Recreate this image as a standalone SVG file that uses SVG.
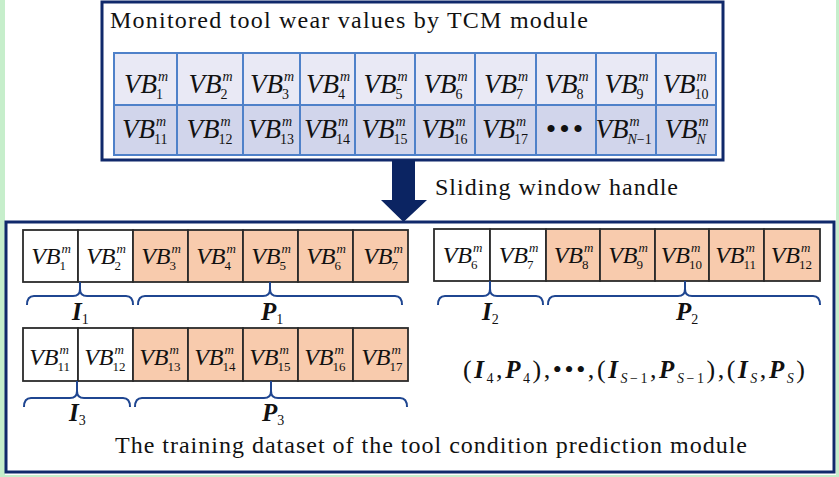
<svg xmlns="http://www.w3.org/2000/svg" width="839" height="477" viewBox="0 0 839 477">
<style>
text{font-family:"Liberation Serif","Times New Roman",serif;fill:#111}
.vb{font-style:italic;font-size:27px;text-anchor:end}
.sp{font-style:italic;font-size:14px}
.sb{font-size:14px}
.vb2{font-style:italic;font-size:24px;text-anchor:end}
.sp2{font-style:italic;font-size:13px}
.sb2{font-size:13px}
.box{fill:#fff;stroke:#10296b;stroke-width:3}
.grid{stroke:#4f81c9;stroke-width:2;fill:none}
.cell{stroke:#2b2b2b;stroke-width:1.8}
.w{fill:#fff}
.o{fill:#f8cbad}
.brace{fill:none;stroke:#1f4691;stroke-width:2}
.lbl{font-style:italic;font-weight:bold;font-size:25px}
.ls{font-size:14px}
.cap{font-size:24px}
</style>
<rect width="839" height="477" fill="#fff"/>
<rect x="0" y="0" width="5" height="477" fill="#c6eecb"/>
<rect x="836" y="0" width="3" height="477" fill="#c6eecb"/>
<rect x="0" y="475" width="839" height="2" fill="#c6eecb"/>

<g id="tcm-module">
<rect class="box" x="102" y="2" width="621" height="158"/>
<text x="110" y="28" class="cap" font-size="26" textLength="478" lengthAdjust="spacing">Monitored tool wear values by TCM module</text>
<rect x="114" y="53" width="602" height="52" fill="#e9e9f5"/>
<rect x="114" y="105" width="602" height="50" fill="#d1d5eb"/>
<path class="grid" d="M114,53H716V155H114ZM114,105H716M177,53V155M243,53V155M300,53V155M355,53V155M415,53V155M475,53V155M536,53V155M596,53V155M656,53V155"/>
<g>
<text class="vb" x="157" y="93">VB</text><text class="sp" x="158" y="81">m</text><text class="sb" x="156" y="99">1</text>
<text class="vb" x="221.5" y="93">VB</text><text class="sp" x="222.5" y="81">m</text><text class="sb" x="220.5" y="99">2</text>
<text class="vb" x="283" y="93">VB</text><text class="sp" x="284" y="81">m</text><text class="sb" x="282" y="99">3</text>
<text class="vb" x="339" y="93">VB</text><text class="sp" x="340" y="81">m</text><text class="sb" x="338" y="99">4</text>
<text class="vb" x="396.5" y="93">VB</text><text class="sp" x="397.5" y="81">m</text><text class="sb" x="395.5" y="99">5</text>
<text class="vb" x="456.5" y="93">VB</text><text class="sp" x="457.5" y="81">m</text><text class="sb" x="455.5" y="99">6</text>
<text class="vb" x="517" y="93">VB</text><text class="sp" x="518" y="81">m</text><text class="sb" x="516" y="99">7</text>
<text class="vb" x="577.5" y="93">VB</text><text class="sp" x="578.5" y="81">m</text><text class="sb" x="576.5" y="99">8</text>
<text class="vb" x="637.5" y="93">VB</text><text class="sp" x="638.5" y="81">m</text><text class="sb" x="636.5" y="99">9</text>
<text class="vb" x="695.5" y="93">VB</text><text class="sp" x="696.5" y="81">m</text><text class="sb" x="694.5" y="99">10</text>
</g>
<g>
<text class="vb" x="155" y="138">VB</text><text class="sp" x="156" y="126">m</text><text class="sb" x="154" y="144">11</text>
<text class="vb" x="219.5" y="138">VB</text><text class="sp" x="220.5" y="126">m</text><text class="sb" x="218.5" y="144">12</text>
<text class="vb" x="281" y="138">VB</text><text class="sp" x="282" y="126">m</text><text class="sb" x="280" y="144">13</text>
<text class="vb" x="337" y="138">VB</text><text class="sp" x="338" y="126">m</text><text class="sb" x="336" y="144">14</text>
<text class="vb" x="394.5" y="138">VB</text><text class="sp" x="395.5" y="126">m</text><text class="sb" x="393.5" y="144">15</text>
<text class="vb" x="454.5" y="138">VB</text><text class="sp" x="455.5" y="126">m</text><text class="sb" x="453.5" y="144">16</text>
<text class="vb" x="515" y="138">VB</text><text class="sp" x="516" y="126">m</text><text class="sb" x="514" y="144">17</text>
<text x="566" y="139" font-size="30" text-anchor="middle" letter-spacing="3">•••</text>
<text class="vb" x="628.5" y="138">VB</text><text class="sp" x="629.5" y="126">m</text><text class="sb" x="627.5" y="144"><tspan font-style="italic">N</tspan>−1</text>
<text class="vb" x="697.5" y="138">VB</text><text class="sp" x="698.5" y="126">m</text><text class="sb" x="696.5" y="144" font-style="italic">N</text>
</g>
</g>

<g id="connectors">
<path d="M392,160H415V200H427L403.5,222L381,200H392Z" fill="#0b2462"/>
</g>
<g id="arrow-label">
<text x="435" y="195" class="cap" font-size="25" textLength="243" lengthAdjust="spacing">Sliding window handle</text>
</g>

<g id="training-dataset">
<rect class="box" x="6" y="222" width="828" height="250"/>
<text x="115" y="453" class="cap" textLength="632" lengthAdjust="spacing">The training dataset of the tool condition prediction module</text>
</g>

<g id="sample-1">
<rect class="cell w" x="23" y="230" width="55" height="52"/>
<rect class="cell w" x="78" y="230" width="55" height="52"/>
<rect class="cell o" x="133" y="230" width="55" height="52"/>
<rect class="cell o" x="188" y="230" width="55" height="52"/>
<rect class="cell o" x="243" y="230" width="55" height="52"/>
<rect class="cell o" x="298" y="230" width="55" height="52"/>
<rect class="cell o" x="353" y="230" width="55" height="52"/>
<text class="vb2" x="60.5" y="264">VB</text><text class="sp2" x="61.5" y="253">m</text><text class="sb2" x="59.5" y="270">1</text>
<text class="vb2" x="115.5" y="264">VB</text><text class="sp2" x="116.5" y="253">m</text><text class="sb2" x="114.5" y="270">2</text>
<text class="vb2" x="170.5" y="264">VB</text><text class="sp2" x="171.5" y="253">m</text><text class="sb2" x="169.5" y="270">3</text>
<text class="vb2" x="225.5" y="264">VB</text><text class="sp2" x="226.5" y="253">m</text><text class="sb2" x="224.5" y="270">4</text>
<text class="vb2" x="280.5" y="264">VB</text><text class="sp2" x="281.5" y="253">m</text><text class="sb2" x="279.5" y="270">5</text>
<text class="vb2" x="335.5" y="264">VB</text><text class="sp2" x="336.5" y="253">m</text><text class="sb2" x="334.5" y="270">6</text>
<text class="vb2" x="392.5" y="264">VB</text><text class="sp2" x="393.5" y="253">m</text><text class="sb2" x="391.5" y="270">7</text>
<path class="brace" d="M27,305Q27,296 34,296H73Q80,296 80,289V282M80,289Q80,296 87,296H126Q133,296 133,305"/>
<path class="brace" d="M138,305Q138,296 145,296H263Q270,296 270,289V282M270,289Q270,296 277,296H395Q402,296 402,305"/>
<text x="72" y="320" class="lbl">I<tspan class="ls" font-weight="normal" font-style="normal" dy="4">1</tspan></text>
<text x="261" y="320" class="lbl">P<tspan class="ls" font-weight="normal" font-style="normal" dy="4">1</tspan></text>
</g>

<g id="sample-2">
<rect class="cell w" x="434" y="229" width="56" height="52"/>
<rect class="cell w" x="490" y="229" width="56" height="52"/>
<rect class="cell o" x="546" y="229" width="54" height="52"/>
<rect class="cell o" x="600" y="229" width="55" height="52"/>
<rect class="cell o" x="655" y="229" width="54" height="52"/>
<rect class="cell o" x="709" y="229" width="55" height="52"/>
<rect class="cell o" x="764" y="229" width="56" height="52"/>
<text class="vb2" x="472" y="263">VB</text><text class="sp2" x="473" y="252">m</text><text class="sb2" x="471" y="269">6</text>
<text class="vb2" x="528" y="263">VB</text><text class="sp2" x="529" y="252">m</text><text class="sb2" x="527" y="269">7</text>
<text class="vb2" x="583" y="263">VB</text><text class="sp2" x="584" y="252">m</text><text class="sb2" x="582" y="269">8</text>
<text class="vb2" x="637.5" y="263">VB</text><text class="sp2" x="638.5" y="252">m</text><text class="sb2" x="636.5" y="269">9</text>
<text class="vb2" x="690" y="263">VB</text><text class="sp2" x="691" y="252">m</text><text class="sb2" x="689" y="269">10</text>
<text class="vb2" x="744.5" y="263">VB</text><text class="sp2" x="745.5" y="252">m</text><text class="sb2" x="743.5" y="269">11</text>
<text class="vb2" x="800" y="263">VB</text><text class="sp2" x="801" y="252">m</text><text class="sb2" x="799" y="269">12</text>
<path class="brace" d="M438,305Q438,296 445,296H483Q490,296 490,289V281M490,289Q490,296 497,296H536Q543,296 543,305"/>
<path class="brace" d="M548,305Q548,296 555,296H678Q685,296 685,289V281M685,289Q685,296 692,296H813Q820,296 820,305"/>
<text x="482" y="320" class="lbl">I<tspan class="ls" font-weight="normal" font-style="normal" dy="4">2</tspan></text>
<text x="676" y="320" class="lbl">P<tspan class="ls" font-weight="normal" font-style="normal" dy="4">2</tspan></text>
</g>

<g id="sample-3">
<rect class="cell w" x="23" y="328" width="55" height="53"/>
<rect class="cell w" x="78" y="328" width="55" height="53"/>
<rect class="cell o" x="133" y="328" width="55" height="53"/>
<rect class="cell o" x="188" y="328" width="55" height="53"/>
<rect class="cell o" x="243" y="328" width="55" height="53"/>
<rect class="cell o" x="298" y="328" width="55" height="53"/>
<rect class="cell o" x="353" y="328" width="55" height="53"/>
<text class="vb2" x="58.5" y="365">VB</text><text class="sp2" x="59.5" y="354">m</text><text class="sb2" x="57.5" y="371">11</text>
<text class="vb2" x="113.5" y="365">VB</text><text class="sp2" x="114.5" y="354">m</text><text class="sb2" x="112.5" y="371">12</text>
<text class="vb2" x="168.5" y="365">VB</text><text class="sp2" x="169.5" y="354">m</text><text class="sb2" x="167.5" y="371">13</text>
<text class="vb2" x="223.5" y="365">VB</text><text class="sp2" x="224.5" y="354">m</text><text class="sb2" x="222.5" y="371">14</text>
<text class="vb2" x="278.5" y="365">VB</text><text class="sp2" x="279.5" y="354">m</text><text class="sb2" x="277.5" y="371">15</text>
<text class="vb2" x="333.5" y="365">VB</text><text class="sp2" x="334.5" y="354">m</text><text class="sb2" x="332.5" y="371">16</text>
<text class="vb2" x="390.5" y="365">VB</text><text class="sp2" x="391.5" y="354">m</text><text class="sb2" x="389.5" y="371">17</text>
<path class="brace" d="M24,407Q24,398 31,398H70Q77,398 77,391V381M77,391Q77,398 84,398H123Q130,398 130,407"/>
<path class="brace" d="M135,407Q135,398 142,398H264Q271,398 271,391V381M271,391Q271,398 278,398H400Q407,398 407,407"/>
<text x="69" y="421" class="lbl">I<tspan class="ls" font-weight="normal" font-style="normal" dy="4">3</tspan></text>
<text x="262" y="421" class="lbl">P<tspan class="ls" font-weight="normal" font-style="normal" dy="4">3</tspan></text>
</g>

<g id="remaining-samples">
<text x="463" y="378" font-size="26" textLength="342" lengthAdjust="spacing">(<tspan class="lbl" font-size="27">I</tspan><tspan class="ls" font-size="16" dy="5">4</tspan><tspan dy="-5">,</tspan><tspan class="lbl" font-size="27">P</tspan><tspan class="ls" font-size="16" dy="5">4</tspan><tspan dy="-5">),•••,(</tspan><tspan class="lbl" font-size="27">I</tspan><tspan class="ls" font-size="16" dy="5"><tspan font-style="italic">S</tspan>−1</tspan><tspan dy="-5">,</tspan><tspan class="lbl" font-size="27">P</tspan><tspan class="ls" font-size="16" dy="5"><tspan font-style="italic">S</tspan>−1</tspan><tspan dy="-5">),(</tspan><tspan class="lbl" font-size="27">I</tspan><tspan class="ls" font-size="16" dy="5" font-style="italic">S</tspan><tspan dy="-5">,</tspan><tspan class="lbl" font-size="27">P</tspan><tspan class="ls" font-size="16" dy="5" font-style="italic">S</tspan><tspan dy="-5">)</tspan></text>
</g>
</svg>
